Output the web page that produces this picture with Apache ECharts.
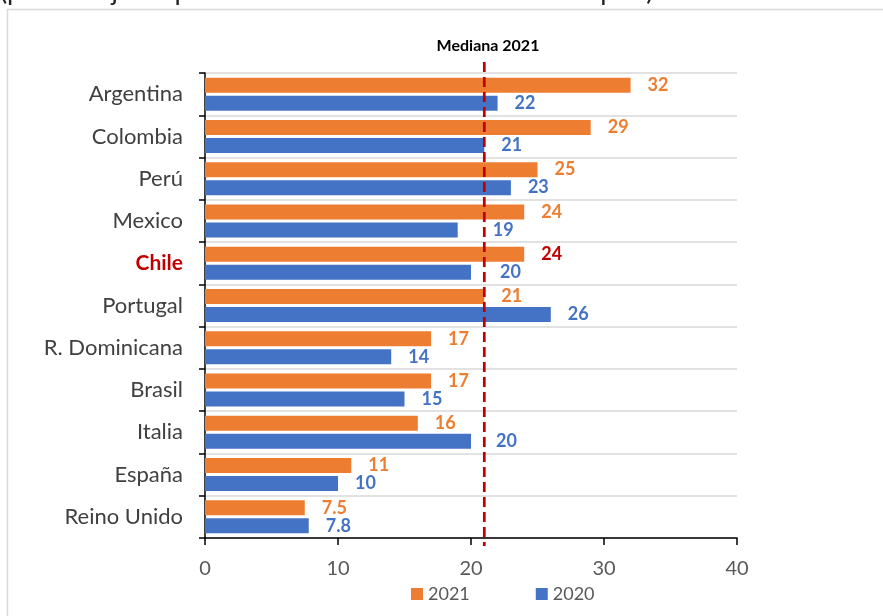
<!DOCTYPE html>
<html><head><meta charset="utf-8">
<script src="https://cdn.jsdelivr.net/npm/echarts@6/dist/echarts.min.js"></script>
<style>html,body{margin:0;padding:0;background:#fff}#c{width:883px;height:616px}</style>
</head><body><div id="c"></div>
<script>
const categories = ['Argentina','Colombia','Perú','Mexico','Chile','Portugal','R. Dominicana','Brasil','Italia','España','Reino Unido'];
const values2021 = [32,29,25,24,24,21,17,17,16,11,7.5];
const values2020 = [22,21,23,19,20,26,14,15,20,10,7.8];
const median2021 = 21;
const xTicks = [0,10,20,30,40];
const FONT = 'Lato, "Open Sans", sans-serif';
// labels nudged away from the median line, as in the original
const labelDistance2020 = {Mexico:35, Chile:29, Italia:25};
const chart = echarts.init(document.getElementById('c'));
const lbl = (color) => ({show:true, position:'right', distance:17, color:color, fontWeight:'bold', fontSize:18, fontFamily:FONT});
chart.setOption({
  animation:false,
  textStyle:{fontFamily:FONT},
  title:{text:'Mediana 2021', left:483, textAlign:'center', top:33, textStyle:{fontSize:16, fontWeight:'bold', color:'#000', fontFamily:FONT}},
  legend:{bottom:8, left:406, itemWidth:12, itemHeight:12, itemGap:66, icon:'rect', textStyle:{fontSize:18, color:'#595959', fontFamily:FONT}, data:['2021','2020']},
  grid:{left:205, right:146, top:73, bottom:78, containLabel:false},
  xAxis:{type:'value', min:xTicks[0], max:xTicks[xTicks.length-1], interval:xTicks[1]-xTicks[0],
    axisLine:{show:true, lineStyle:{color:'#000', width:1.5}},
    axisTick:{show:true, length:7, lineStyle:{color:'#000', width:1.5}},
    splitLine:{show:false},
    axisLabel:{fontSize:20, color:'#595959', margin:21, fontFamily:FONT}},
  yAxis:{type:'category', inverse:true, data:categories,
    axisLine:{show:true, lineStyle:{color:'#000', width:1.5}},
    axisTick:{show:true, length:6, lineStyle:{color:'#000', width:1.5}},
    splitLine:{show:true, lineStyle:{color:'#D9D9D9', width:1.5}},
    axisLabel:{fontSize:22, color:'#404040', margin:22, fontFamily:FONT,
      formatter:(v)=> v==='Chile' ? '{c|Chile}' : v,
      rich:{c:{fontSize:21, color:'#C00000', fontWeight:'bold', fontFamily:FONT}}}},
  series:[
    {name:'2021', type:'bar', barWidth:15, barGap:'20%', itemStyle:{color:'#ED7D31'},
     label:lbl('#ED7D31'),
     data: values2021.map((v,i)=> categories[i]==='Chile' ? {value:v, label:{color:'#C00000'}} : v)},
    {name:'2020', type:'bar', barWidth:15, barGap:'20%', itemStyle:{color:'#4472C4'},
     label:lbl('#4472C4'),
     data: values2020.map((v,i)=> labelDistance2020[categories[i]] ? {value:v, label:{distance:labelDistance2020[categories[i]]}} : v)}
  ]
});
const mx = chart.convertToPixel({xAxisIndex:0}, median2021);
chart.setOption({graphic:[
  {type:'rect', shape:{x:7.5,y:9.5,width:900,height:700}, style:{fill:'none', stroke:'#D9D9D9', lineWidth:1.5}, z:-1},
  {type:'text', x:0, y:-9, style:{text:'(porcentaje respecto al total de la muestra de cada país)', fontSize:27, fill:'#222', fontFamily:FONT, verticalAlign:'middle'}},
  {type:'line', shape:{x1:mx, y1:62, x2:mx, y2:546}, style:{stroke:'#C00000', lineWidth:2.7, lineDash:[10,5]}, z:10, silent:true}
]});
</script></body></html>
